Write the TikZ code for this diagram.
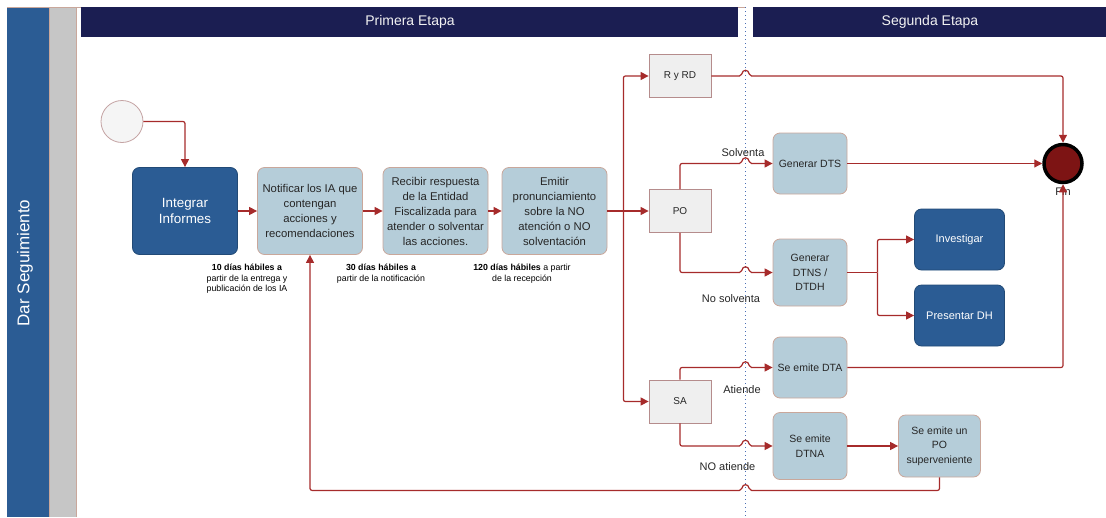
\documentclass[tikz,border=0pt]{standalone}
\usepackage{fontspec}
\setmainfont{Liberation Sans}
\usetikzlibrary{arrows.meta, calc, positioning}

\definecolor{laneblue}{HTML}{2B5C94}
\definecolor{navy}{HTML}{1B1E52}
\definecolor{graylane}{HTML}{C6C6C6}
\definecolor{boxblue}{HTML}{B5CDD9}
\definecolor{boxedge}{HTML}{C9A79B}
\definecolor{gatefill}{HTML}{EFEFEF}
\definecolor{gateedge}{HTML}{B58C8C}
\definecolor{linered}{HTML}{A62B2B}
\definecolor{finred}{HTML}{7D1414}
\definecolor{divblue}{HTML}{4A6FB5}

\begin{document}
\begin{tikzpicture}[x=1pt, y=-1pt,
    font=\fontsize{11.3}{15}\selectfont,
    flow/.style={draw=linered, line width=1.2pt, rounded corners=2pt},
    arr/.style={flow, -{Triangle[width=8pt,length=8pt]}},
    task/.style={rectangle, rounded corners=7pt, draw=boxedge, line width=0.8pt, fill=boxblue,
      minimum width=105pt, minimum height=87pt, align=center, inner sep=2pt,
      text=black!85},
    keytask/.style={task, fill=laneblue, draw=laneblue!80!black, text=white},
    result/.style={task, minimum width=74pt, font=\fontsize{10.5}{14.5}\selectfont},
    gate/.style={rectangle, draw=gateedge, line width=0.8pt, fill=gatefill, minimum width=62pt,
      minimum height=43pt, text=black!85, font=\fontsize{10}{12}\selectfont},
    note/.style={align=center, text=black, font=\fontsize{8.8}{10.5}\selectfont},
    cond/.style={text=black!85, font=\fontsize{11}{13}\selectfont},
    hop/.style={insert path={.. controls +(1,-7) and +(-1,-7) .. ($(div|-#1)+(4,0)$)}},
    hopback/.style={insert path={.. controls +(-1,-7) and +(1,-7) .. ($(div|-#1)+(-4,0)$)}}]
  \useasboundingbox (0,0) rectangle (1106,517);

  % lane and stage headers
  \fill[laneblue] (7,7) rectangle (49,517);
  \fill[graylane] (49,7) rectangle (76,517);
  \draw[boxedge] (7,7) -- (745,7) (49,7) -- (49,517) (76,7) -- (76,517);
  \node[rotate=90, text=white, font=\fontsize{17}{20}\selectfont] (lane) at (25,263) {Dar Seguimiento};
  \fill[navy] (81,7) rectangle (738,37);
  \fill[navy] (753,7) rectangle (1106,37);
  \node[text=white!90!gray, font=\fontsize{14}{16}\selectfont] (stage1) at (410,22) {Primera Etapa};
  \node[text=white!90!gray, font=\fontsize{14}{16}\selectfont] (stage2) at (930,22) {Segunda Etapa};
  \coordinate (div) at (745.5,7);
  \draw[divblue, line width=1pt, dash pattern=on 1pt off 3pt] (div) -- ++(0,510);

  % first stage
  \node[circle, draw=gateedge!80, line width=0.8pt, fill=gatefill!60, minimum size=42pt, inner sep=0pt] (start) at (122,121.5) {};
  \node[keytask, font=\fontsize{13.4}{16}\selectfont] (integ) at (185,211) {Integrar\\Informes};
  \node[task] (notif) at (310,211) {Notificar los IA que\\contengan\\acciones y\\recomendaciones};
  \node[task] (recib) at (435.5,211) {Recibir respuesta\\de la Entidad\\Fiscalizada para\\atender o solventar\\las acciones.};
  \node[task] (emitir) at (554.5,211) {Emitir\\pronunciamiento\\sobre la NO\\atención o NO\\solventación};
  \node[note] (plazo1) at (247,279) {\textbf{10 días hábiles a}\\partir de la entrega y\\publicación de los IA};
  \node[note] (plazo2) at (381,273.5) {\textbf{30 días hábiles a}\\partir de la notificación};
  \node[note] (plazo3) at (522,273.5) {\textbf{120 días hábiles} a partir\\de la recepción};

  % outcomes
  \node[gate] (ryrd) at (680,76) {R y RD};
  \node[gate] (po) at (680,211) {PO};
  \node[gate] (sa) at (680,401.5) {SA};

  % second stage
  \node[result, minimum height=61pt] (dts) at (810,163.5) {Generar DTS};
  \node[result, minimum height=67pt] (dtns) at (810,272.5) {Generar\\DTNS /\\DTDH};
  \node[result, minimum height=61pt] (dta) at (810,367.5) {Se emite DTA};
  \node[result, minimum height=67pt] (dtna) at (810,446) {Se emite\\DTNA};
  \node[result, minimum width=82pt, minimum height=62pt] (posup) at (939.5,446) {Se emite un\\PO\\superveniente};
  \node[keytask, minimum width=90pt, minimum height=61pt, font=\fontsize{11}{14}\selectfont] (invest) at (959.5,239.5) {Investigar};
  \node[keytask, minimum width=90pt, minimum height=61pt, font=\fontsize{11}{14}\selectfont] (presdh) at (959.5,315.5) {Presentar DH};
  \node[circle, draw=black, line width=3.5pt, fill=finred, minimum size=38pt, inner sep=0pt] (fin) at (1063,163.5) {};
  \node[below=0pt of fin, cond] (finlbl) {Fin};

  % connectors
  \draw[arr] (start.east) -| (integ.north);
  \draw[arr] (integ) -- (notif);
  \draw[arr] (notif) -- (recib);
  \draw[arr] (recib) -- (emitir);
  \coordinate (fork) at ($(emitir.east)+(16,0)$);
  \draw[flow] (emitir.east) -- (fork);
  \draw[arr] (fork) |- (ryrd.west);
  \draw[arr] (fork) -- (po.west);
  \draw[arr] (fork) |- (sa.west);
  \draw[arr] (ryrd.east) -- ($(div|-ryrd.east)+(-4,0)$) [hop=ryrd.east] -| (fin.north);
  \draw[arr] (po.north) |- ($(div|-dts.west)+(-4,0)$) [hop=dts.west] -- (dts.west);
  \draw[arr] (po.south) |- ($(div|-dtns.west)+(-4,0)$) [hop=dtns.west] -- (dtns.west);
  \draw[arr] (sa.north) |- ($(div|-dta.west)+(-4,0)$) [hop=dta.west] -- (dta.west);
  \draw[arr] (sa.south) |- ($(div|-dtna.west)+(-4,0)$) [hop=dtna.west] -- (dtna.west);
  \draw[arr] (dts.east) -- (fin.west);
  \draw[arr] (dta.east) -| (fin.south);
  \coordinate (fork2) at ($(dtns.east)+(30,0)$);
  \draw[flow] (dtns.east) -- (fork2);
  \draw[arr] (fork2) |- (invest.west);
  \draw[arr] (fork2) |- (presdh.west);
  \draw[arr] (dtna.east) -- (posup.west);
  \coordinate (ret) at ($(posup.south)+(0,13)$);
  \draw[arr] (posup.south) -- (ret) -- ($(div|-ret)+(4,0)$) [hopback=ret] -| (notif.south);

  % branch labels
  \node[cond] (solv) at (743,153) {Solventa};
  \node[cond] (nosolv) at (731,298.5) {No solventa};
  \node[cond] (atiende) at (742,390) {Atiende};
  \node[cond] (noatiende) at (727.5,466.5) {NO atiende};
\end{tikzpicture}
\end{document}
